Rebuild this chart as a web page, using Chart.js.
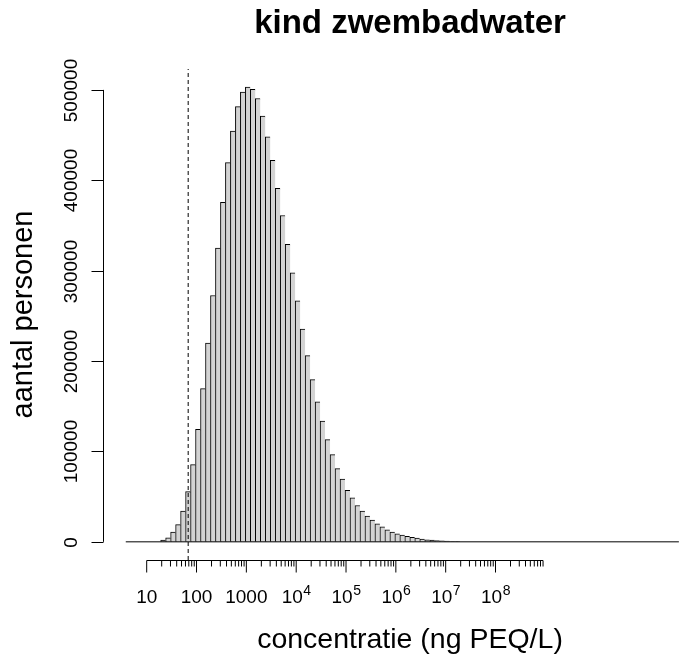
<!DOCTYPE html>
<html>
<head>
<meta charset="utf-8">
<title>kind zwembadwater</title>
<script src="https://cdn.jsdelivr.net/npm/chart.js@4.4.1/dist/chart.umd.min.js"></script>
<style>
  html, body { margin: 0; padding: 0; background: #fff; }
  canvas { display: block; }
</style>
</head>
<body>
<canvas id="hist" width="687" height="656"></canvas>
<script>
// histogram of log10(concentration), bins of 0.1 log-units
const binWidth = 0.1;
const firstBin = 1.28;            // lower edge of first non-empty bin (log10)
const histRange = [0.58, 11.68];  // full range of the histogram breaks (log10)
const counts = [
  1900, 4500, 10700, 19000, 34000, 55500, 85500, 124500, 169500, 220000,
  272500, 325000, 375500, 419500, 454500, 481500, 497500, 503000, 500700, 490500,
  471000, 448000, 422000, 391000, 361000, 329000, 297500, 266500, 235500, 206000,
  179500, 155000, 133500, 113000, 96500, 81000, 69300, 57000, 48600, 40200,
  33900, 28400, 24000, 19900, 16600, 13300, 10700, 8800, 7400, 6000,
  4900, 4100, 3000, 2200, 1900, 1500, 1100, 700, 400, 200
];
const threshold = 68;             // dashed reference line, ng PEQ/L

// axis limits (plot region, log10 units / persons)
const xLimits = [0.123, 11.843];
const yLimits = [-20100, 523100];

// tick values and labels
const yTicks = [0, 100000, 200000, 300000, 400000, 500000];
const xDecades = [1, 2, 3, 4, 5, 6, 7, 8];
const xTickLabels = ["10", "100", "1000", "10^4", "10^5", "10^6", "10^7", "10^8"];
const minorMultipliers = [2, 3, 4, 5, 6, 7, 8, 9];

const titleText = "kind zwembadwater";
const xTitle = "concentratie (ng PEQ/L)";
const yTitle = "aantal personen";

const FONT = "'Liberation Sans', Arial, Helvetica, sans-serif";

const barData = counts.map((c, i) => ({ x: firstBin + (i + 0.5) * binWidth, y: c }));
const baseData = histRange.map(v => ({ x: v, y: 0 }));
const threshData = yLimits.map(v => ({ x: Math.log10(threshold), y: v }));

// R-style axes drawn through the chart's scales
const rAxes = {
  id: "rAxes",
  afterDraw(chart) {
    const { ctx, chartArea: a, scales: { x, y } } = chart;
    const seg = (x1, y1, x2, y2) => {
      ctx.beginPath(); ctx.moveTo(x1, y1); ctx.lineTo(x2, y2); ctx.stroke();
    };
    ctx.save();
    ctx.strokeStyle = "#000";
    ctx.fillStyle = "#000";
    ctx.lineWidth = 1;

    // y axis
    const ax = Math.round(a.left) + 0.5;
    seg(ax, y.getPixelForValue(yTicks[0]), ax, y.getPixelForValue(yTicks[yTicks.length - 1]));
    ctx.font = "19px " + FONT;
    yTicks.forEach(v => {
      const p = Math.round(y.getPixelForValue(v)) + 0.5;
      seg(ax - 12, p, ax, p);
      ctx.save();
      ctx.translate(ax - 26.5, p);
      ctx.rotate(-Math.PI / 2);
      ctx.textAlign = "center";
      ctx.textBaseline = "alphabetic";
      ctx.fillText(String(v), 0, 0);
      ctx.restore();
    });

    // x axis (log scale: 10 .. 9e8)
    const ay = Math.round(a.bottom) + 0.5;
    const lastDecade = xDecades[xDecades.length - 1];
    const lastTick = Math.log10(minorMultipliers[minorMultipliers.length - 1]) + lastDecade;
    seg(x.getPixelForValue(xDecades[0]), ay, x.getPixelForValue(lastTick), ay);
    xDecades.forEach((d, i) => {
      const p = x.getPixelForValue(d);
      seg(p, ay, p, ay + 12);
      minorMultipliers.forEach(m => {
        const q = x.getPixelForValue(d + Math.log10(m));
        seg(q, ay, q, ay + 6);
      });
      const lab = xTickLabels[i];
      const base = 603;
      if (lab.includes("^")) {
        const [b, e] = lab.split("^");
        ctx.font = "19px " + FONT;
        const w1 = ctx.measureText(b).width;
        ctx.font = "14px " + FONT;
        const w2 = ctx.measureText(e).width;
        const sx = p - (w1 + w2) / 2;
        ctx.textAlign = "left";
        ctx.font = "19px " + FONT;
        ctx.fillText(b, sx, base);
        ctx.font = "14px " + FONT;
        ctx.fillText(e, sx + w1 + 0.5, base - 8);
      } else {
        ctx.font = "19px " + FONT;
        ctx.textAlign = "center";
        ctx.fillText(lab, p, base);
      }
    });

    // titles
    ctx.textAlign = "center";
    ctx.textBaseline = "alphabetic";
    ctx.font = "bold 33px " + FONT;
    ctx.fillText(titleText, 410, 33);
    ctx.font = "28.5px " + FONT;
    ctx.fillText(xTitle, 410, 648);
    ctx.save();
    ctx.translate(32, (a.top + a.bottom) / 2);
    ctx.rotate(-Math.PI / 2);
    ctx.font = "29px " + FONT;
    ctx.fillText(yTitle, 0, 0);
    ctx.restore();

    ctx.restore();
  }
};

new Chart(document.getElementById("hist"), {
  type: "bar",
  data: {
    datasets: [
      {
        type: "line",
        data: threshData,
        borderColor: "#000",
        borderWidth: 1,
        borderDash: [4, 3],
        pointRadius: 0,
        order: 0
      },
      {
        type: "line",
        data: baseData,
        borderColor: "#000",
        borderWidth: 1,
        pointRadius: 0,
        order: 1
      },
      {
        type: "bar",
        data: barData,
        backgroundColor: "#d3d3d3",
        borderColor: "#000",
        borderWidth: ctx => ({
          left: 1, top: 1, bottom: 0,
          right: ctx.dataIndex === counts.length - 1 ? 1 : 0
        }),
        borderSkipped: false,
        barPercentage: 1,
        categoryPercentage: 1,
        order: 2
      }
    ]
  },
  options: {
    responsive: false,
    devicePixelRatio: 1,
    animation: false,
    layout: { padding: { left: 103, right: 0, top: 69, bottom: 96 } },
    plugins: { legend: { display: false }, tooltip: { enabled: false }, title: { display: false } },
    scales: {
      x: { type: "linear", min: xLimits[0], max: xLimits[1], offset: false, display: false },
      y: { type: "linear", min: yLimits[0], max: yLimits[1], display: false }
    }
  },
  plugins: [rAxes]
});
</script>
</body>
</html>
